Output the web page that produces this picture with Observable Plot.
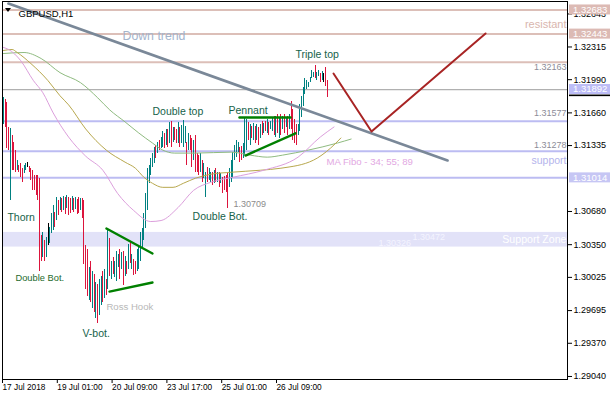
<!DOCTYPE html>
<html><head><meta charset="utf-8">
<script src="https://cdn.jsdelivr.net/npm/d3@7"></script>
<script src="https://cdn.jsdelivr.net/npm/@observablehq/plot@0.6"></script>
<style>body{margin:0;background:#fff} svg{display:block}</style>
</head><body><div id="chart"></div>
<script>
const symbol = "GBPUSD,H1";
const high = [
1.3181,1.3179,1.3176,1.3151,1.3150,1.3144,1.3137,1.3129,1.3119,1.3114,
1.3116,1.3111,1.3114,1.3116,1.3117,1.3113,1.3111,1.3109,1.3104,1.3104,
1.3104,1.3101,1.3044,1.3047,1.3039,1.3042,1.3056,1.3052,1.3066,1.3074,
1.3067,1.3082,1.3079,1.3082,1.3081,1.3083,1.3082,1.3084,1.3082,1.3081,
1.3083,1.3081,1.3082,1.3080,1.3082,1.3081,1.3081,1.3079,1.3034,1.3030,
1.3012,1.3018,1.3008,1.3005,1.2997,1.2995,1.3000,1.3003,1.3008,1.3010,
1.3000,1.3051,1.3041,1.3018,1.3022,1.3018,1.3028,1.3025,1.3030,1.3027,
1.3028,1.3023,1.3018,1.3035,1.3037,1.3025,1.3020,1.3018,1.3030,1.3032,
1.3047,1.3051,1.3066,1.3086,1.3111,1.3114,1.3121,1.3126,1.3132,1.3134,
1.3137,1.3139,1.3142,1.3147,1.3146,1.3149,1.3149,1.3156,1.3157,1.3151,
1.3151,1.3149,1.3156,1.3151,1.3153,1.3158,1.3152,1.3137,1.3146,1.3144,
1.3141,1.3139,1.3144,1.3126,1.3124,1.3126,1.3119,1.3116,1.3107,1.3112,
1.3111,1.3107,1.3107,1.3109,1.3111,1.3107,1.3107,1.3106,1.3102,1.3103,
1.3104,1.3106,1.3111,1.3119,1.3127,1.3134,1.3139,1.3137,1.3132,1.3133,
1.3136,1.3160,1.3159,1.3156,1.3154,1.3152,1.3155,1.3152,1.3154,1.3151,
1.3154,1.3157,1.3155,1.3157,1.3159,1.3156,1.3157,1.3161,1.3162,1.3162,
1.3164,1.3161,1.3164,1.3162,1.3164,1.3161,1.3162,1.3164,1.3177,1.3169,
1.3159,1.3154,1.3154,1.3174,1.3182,1.3191,1.3200,1.3198,1.3196,1.3201,
1.3208,1.3206,1.3213,1.3206,1.3208,1.3205,1.3207,1.3205,1.3211,1.3198];
const low = [
1.3154,1.3151,1.3131,1.3129,1.3079,1.3109,1.3109,1.3107,1.3109,1.3107,
1.3102,1.3097,1.3106,1.3109,1.3112,1.3107,1.3099,1.3089,1.3089,1.3084,
1.3079,1.3008,1.3018,1.3022,1.3018,1.3022,1.3034,1.3036,1.3046,1.3049,
1.3052,1.3059,1.3064,1.3069,1.3067,1.3069,1.3065,1.3071,1.3064,1.3066,
1.3069,1.3067,1.3070,1.3065,1.3066,1.3069,1.3061,1.3015,1.2990,1.2983,
1.2980,1.2978,1.2972,1.2968,1.2962,1.2957,1.2965,1.2975,1.2978,1.2982,
1.2984,1.2990,1.3003,1.3000,1.3005,1.3002,1.2998,1.3012,1.3000,1.3010,
1.2994,1.3003,1.3005,1.3010,1.3016,1.3010,1.3004,1.3005,1.3008,1.3010,
1.3018,1.3030,1.3039,1.3051,1.3069,1.3096,1.3104,1.3112,1.3116,1.3121,
1.3126,1.3129,1.3131,1.3132,1.3131,1.3134,1.3132,1.3136,1.3132,1.3137,
1.3139,1.3136,1.3136,1.3132,1.3136,1.3132,1.3136,1.3114,1.3129,1.3129,
1.3112,1.3119,1.3107,1.3107,1.3104,1.3107,1.3097,1.3101,1.3082,1.3097,
1.3099,1.3097,1.3094,1.3096,1.3097,1.3097,1.3092,1.3096,1.3086,1.3089,
1.3087,1.3071,1.3092,1.3097,1.3101,1.3119,1.3122,1.3127,1.3117,1.3119,
1.3121,1.3124,1.3129,1.3139,1.3134,1.3141,1.3139,1.3136,1.3139,1.3134,
1.3141,1.3144,1.3146,1.3147,1.3146,1.3144,1.3149,1.3147,1.3144,1.3142,
1.3146,1.3141,1.3144,1.3149,1.3146,1.3151,1.3144,1.3149,1.3149,1.3139,
1.3136,1.3134,1.3144,1.3147,1.3161,1.3172,1.3184,1.3189,1.3191,1.3196,
1.3200,1.3201,1.3200,1.3198,1.3202,1.3196,1.3198,1.3196,1.3192,1.3181];
// u = up bar, d = down bar, n = doji
const direction = ("udddudddud"+"dduunddddd"+"dddudunuuu"+"dududududd"+"ududdudddd"+
  "udududuudu"+"dududuuudu"+"dudududduu"+"uuuuuuuuud"+"uduudududu"+
  "dduduuudud"+"duddduduud"+"uududududd"+"dduuuuuudd"+"uuudududud"+
  "udududuudu"+"dududududd"+"dduuuuuuuu"+"uuduudundd").split("");

const xTickIdx = [0, 32, 64, 96, 128, 160];
const xTickLabels = ["17 Jul 2018", "19 Jul 01:00", "20 Jul 09:00", "23 Jul 17:00", "25 Jul 01:00", "26 Jul 09:00"];
const yTicks = [1.32643, 1.32315, 1.31990, 1.31660, 1.31335, 1.30680, 1.30350, 1.30025, 1.29695, 1.29370, 1.29040];

const levelPrices = [1.32683, 1.32443, 1.32163, 1.31892, 1.31577, 1.31278, 1.31014];
const levelKinds  = ["res", "res", "res", "bid", "sup", "sup", "sup"];
const supportZone = [1.30326, 1.30472];
const axisBoxPrices = [1.32683, 1.32443, 1.31892, 1.31014];
const axisBoxKinds  = ["res", "res", "bid", "sup"];

// moving averages (bar index, price)
const ma34 = [[0,1.3231],[3,1.3229],[10,1.3218],[17.5,1.3198],[23,1.3186],[29,1.3166],[38,1.3142],[48,1.3123],[58,1.3109],[66.6,1.3086],[76,1.3069],[86,1.3058],[92,1.3059],[102,1.3072],[111,1.3089],[121,1.3097],[134,1.3102],[152,1.3109],[172,1.3122],[185,1.3142],[193,1.3152]];
const ma55 = [[0,1.3228],[5,1.3229],[8,1.3226],[16,1.3215],[26,1.3198],[33,1.3183],[38,1.3174],[48,1.3150],[60,1.3129],[71,1.3117],[77,1.3111],[82,1.3102],[87,1.3096],[93,1.3092],[99,1.3092],[105,1.3096],[112,1.3101],[121,1.3105],[133,1.3107],[150,1.3109],[162,1.3111],[181,1.3119],[191,1.3131],[197,1.3141]];
const ma89 = [[0,1.3225],[12,1.3226],[22,1.3220],[33,1.3206],[45,1.3196],[55,1.3181],[62,1.3169],[71,1.3157],[79,1.3146],[87,1.3136],[93,1.3129],[100,1.3126],[112,1.3126],[133,1.3127],[144,1.3124],[154,1.3122],[163,1.3124],[178,1.3129],[195,1.3136],[203,1.3140]];

const downTrend  = [[2.9,1.32747],[259.3,1.31187]];
const rossUpper  = [[60.1,1.30511],[87,1.30262]];
const rossLower  = [[61.9,1.29884],[87,1.29974]];
const pennantTop = [[137.8,1.31614],[167.6,1.31614]];
const pennantLow = [[141.3,1.31236],[170.5,1.31457]];
const projection = [[192.7,1.32051],[214.9,1.31475],[281.5,1.32449]];

const noteText  = ["Down trend","Thorn","Double Bot.","V-bot.","Ross Hook","Double top","Pennant","Double Bot.","1.30709","Triple top","MA Fibo - 34; 55; 89","1.30326","1.30472"];
const noteIdx   = [69.5, 2.3, 7, 46.1, 60.1, 87, 131.4, 110.4, 134.3, 170.5, 188.6, 219, 238.8];
const notePrice = [1.32419, 1.30620, 1.30014, 1.29467, 1.29735, 1.31674, 1.31684, 1.30630, 1.30750, 1.32240, 1.31177, 1.30362, 1.30422];
const noteKind  = ["trend","pattern","patternS","pattern","hook","pattern","pattern","pattern","price","pattern","ma","zoneval","zoneval"];

const edgeText  = ["resistant", "1.32163", "1.31577", "1.31278", "support", "Support Zone"];
const edgePrice = [1.32538, 1.32111, 1.31654, 1.31335, 1.31187, 1.30401];
const edgeKind  = ["res", "price", "price", "price", "sup", "zone"];

// ---- styling ----
const FONT = "'Liberation Sans', Arial, sans-serif";
const barColor = {u: "#008080", d: "#dc143c", n: "#000000"};
const levelStroke = {res: "#dcbfb8", bid: "#b0b0b0", sup: "#bcbcf2"};
const levelWidth = {res: 2, bid: 1.2, sup: 2};
const boxFill = {res: "#dcbab4", bid: "#bcbcf6", sup: "#c6c6f4"};
const noteStyle = {
  trend:   {fill: "#a4b4cc", size: 12.3},
  pattern: {fill: "#16624a", size: 10.5},
  patternS:{fill: "#1d6a2c", size: 9.3},
  hook:    {fill: "#b8b8b8", size: 9.6},
  price:   {fill: "#8c8c8c", size: 9},
  ma:      {fill: "#e2a8e2", size: 9.6},
  zoneval: {fill: "#f4f4ff", size: 9}
};
const edgeStyle = {
  res:   {fill: "#d9b6ae", size: 11},
  price: {fill: "#8c8c98", size: 9},
  sup:   {fill: "#b4b4ec", size: 10.5},
  zone:  {fill: "#ffffff", size: 10.6}
};

const bars = high.map((h, i) => ({i, high: h, low: low[i], dir: direction[i]}));
const pts = a => a.map(([i, p]) => ({i, p}));
const notes = noteText.map((t, k) => ({t, i: noteIdx[k], p: notePrice[k], kind: noteKind[k]}));
const edges = edgeText.map((t, k) => ({t, p: edgePrice[k], kind: edgeKind[k]}));
const xDom = [-0.584, 329.34];

const noteMarks = Object.keys(noteStyle).map(k => Plot.text(notes.filter(d => d.kind === k), {
  x: "i", y: "p", text: "t", textAnchor: "start", fill: noteStyle[k].fill, fontSize: noteStyle[k].size
}));
const edgeMarks = Object.keys(edgeStyle).map(k => Plot.text(edges.filter(d => d.kind === k), {
  x: () => xDom[1], y: "p", text: "t", textAnchor: "end", dx: -1, fill: edgeStyle[k].fill, fontSize: edgeStyle[k].size
}));

const tickMap = new Map(xTickIdx.map((v, k) => [v, xTickLabels[k]]));

const chart = Plot.plot({
  width: 610, height: 400,
  marginTop: 1, marginBottom: 21, marginLeft: 2, marginRight: 43,
  style: {fontFamily: FONT, background: "#fff", color: "#000"},
  x: {domain: xDom, axis: null, label: null},
  y: {domain: [1.29010, 1.32767], axis: null, label: null},
  marks: [
    Plot.rect([supportZone], {x1: () => xDom[0], x2: () => xDom[1], y1: d => d[0], y2: d => d[1], fill: "#e2e2f8"}),
    Plot.ruleY(levelPrices, {y: d => d, stroke: (d, i) => levelStroke[levelKinds[i]], strokeWidth: (d, i) => levelWidth[levelKinds[i]]}),
    Plot.ruleX(bars, {x: "i", y1: "low", y2: "high", stroke: d => barColor[d.dir], strokeWidth: 1, shapeRendering: "crispEdges"}),
    Plot.line(pts(ma89), {x: "i", y: "p", stroke: "#8fbb80", strokeWidth: 1, curve: "monotone-x"}),
    Plot.line(pts(ma55), {x: "i", y: "p", stroke: "#b8a84e", strokeWidth: 1, curve: "monotone-x"}),
    Plot.line(pts(ma34), {x: "i", y: "p", stroke: "#dc9fdc", strokeWidth: 1, curve: "monotone-x"}),
    ...edgeMarks,
    ...noteMarks,
    Plot.line(pts(downTrend), {x: "i", y: "p", stroke: "#7a8898", strokeWidth: 2.6}),
    Plot.line(pts(rossUpper), {x: "i", y: "p", stroke: "#008000", strokeWidth: 2.4}),
    Plot.line(pts(rossLower), {x: "i", y: "p", stroke: "#008000", strokeWidth: 2.4}),
    Plot.line(pts(pennantTop), {x: "i", y: "p", stroke: "#008000", strokeWidth: 2.4}),
    Plot.line(pts(pennantLow), {x: "i", y: "p", stroke: "#008000", strokeWidth: 2.4}),
    Plot.line(pts(projection), {x: "i", y: "p", stroke: "#a82424", strokeWidth: 2}),
    Plot.axisY(yTicks, {anchor: "right", label: null, tickFormat: d => d.toFixed(5), tickSize: 4, tickPadding: 2, fontSize: 9, stroke: "#000"}),
    Plot.axisX(xTickIdx, {anchor: "bottom", label: null, tickFormat: d => tickMap.get(d), textAnchor: "start", tickSize: 4, tickPadding: 1, fontSize: 8.3, dx: -1}),
    Plot.text([symbol], {frameAnchor: "top-left", text: d => d, dx: 16, dy: 9, fontSize: 9.5, textAnchor: "start", fill: "#000"}),
    Plot.frame({stroke: "#000"})
  ]
});
document.getElementById("chart").appendChild(chart);

// price boxes on the right scale and the symbol marker, placed with the chart's own y scale
const svg = d3.select(chart);
const ys = chart.scale("y");
axisBoxPrices.forEach((v, k) => {
  const cy = ys.apply(v);
  svg.append("rect").attr("x", 569).attr("y", cy - 5).attr("width", 41).attr("height", 10).attr("fill", boxFill[axisBoxKinds[k]]);
  svg.append("text").attr("x", 573).attr("y", cy).attr("dy", "0.34em").attr("font-size", 9.5)
    .attr("text-anchor", "start").attr("fill", "#fff").attr("font-family", FONT).text(v.toFixed(5));
});
const bidY = ys.apply(levelPrices[3]);
svg.append("rect").attr("x", 569).attr("y", bidY + 5.5).attr("width", 41).attr("height", 1.6).attr("fill", "#000");
svg.append("path").attr("d", "M5,8 L11,8 L8,12 Z").attr("fill", "#000");
</script></body></html>
